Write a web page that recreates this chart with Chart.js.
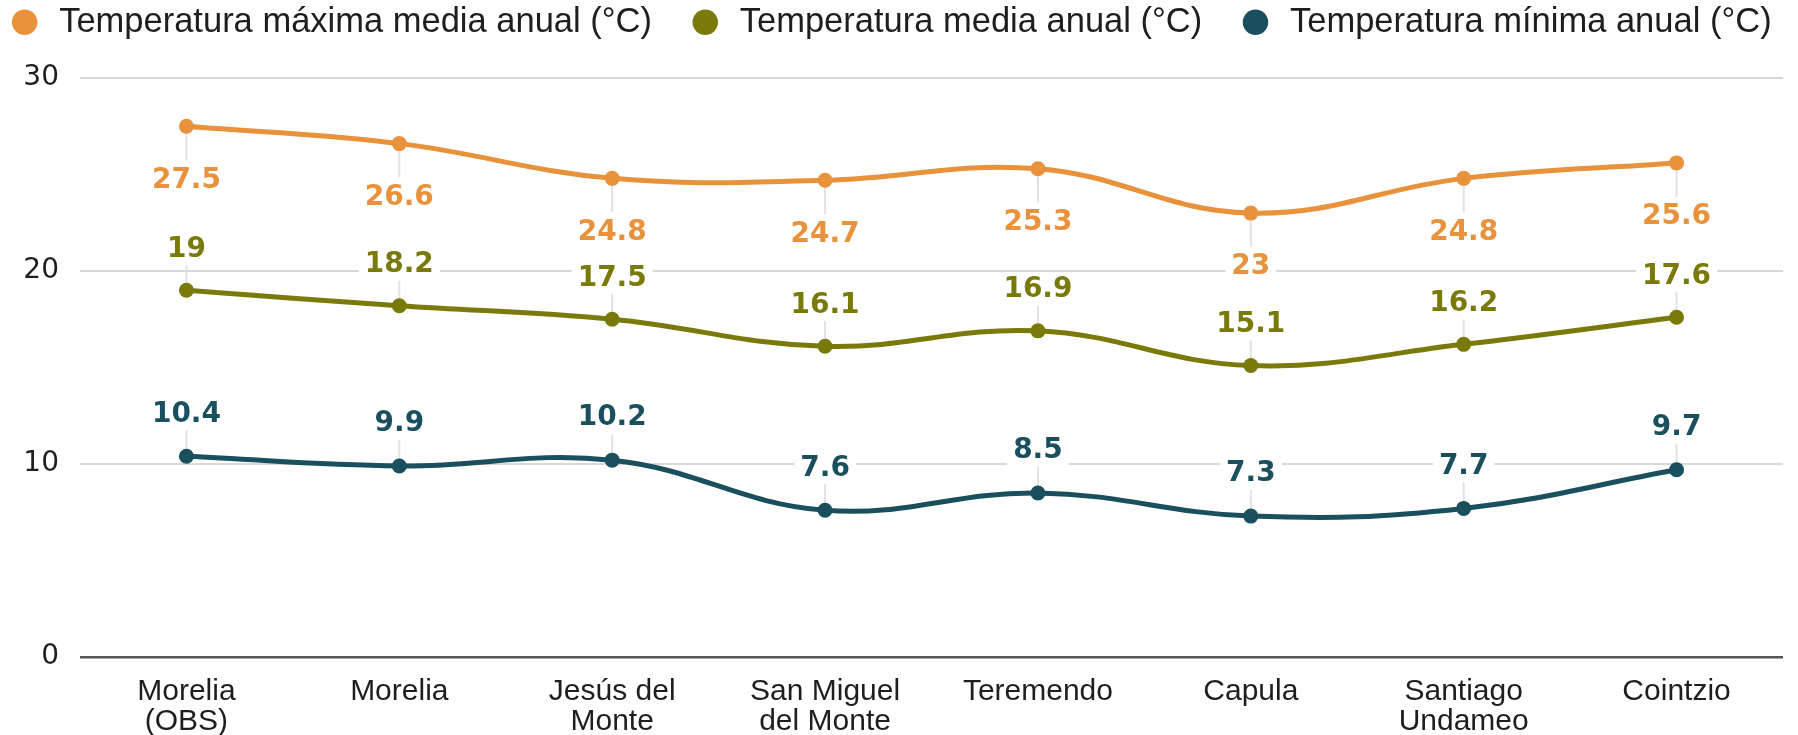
<!DOCTYPE html>
<html>
<head>
<meta charset="utf-8">
<script src="https://cdn.jsdelivr.net/npm/chart.js@4.4.1/dist/chart.umd.min.js"></script>
<style>
  html, body { margin: 0; padding: 0; background: #fff; }
  #wrap { width: 1798px; height: 735px; position: relative; }
</style>
</head>
<body>
<div id="wrap"><canvas id="myChart"></canvas></div>
<script>
// data
const stations = [["Morelia", "(OBS)"], "Morelia", ["Jesús del", "Monte"], ["San Miguel", "del Monte"], "Teremendo", "Capula", ["Santiago", "Undameo"], "Cointzio"];
const maxTemp = [27.5, 26.6, 24.8, 24.7, 25.3, 23, 24.8, 25.6];
const meanTemp = [19, 18.2, 17.5, 16.1, 16.9, 15.1, 16.2, 17.6];
const minTemp = [10.4, 9.9, 10.2, 7.6, 8.5, 7.3, 7.7, 9.7];
const seriesNames = ["Temperatura máxima media anual (°C)", "Temperatura media anual (°C)", "Temperatura mínima anual (°C)"];
const yTicks = [0, 10, 20, 30];

const colors = ['#e8923b', '#7a7a0b', '#1a4f5e'];
// label offset from the point (px): max goes below, the others above
const labelShift = [54, -41, -42];

// legend: keep all three items on one row and leave room under it
const legendSpace = {
  id: 'legendSpace',
  beforeInit(chart) {
    const fit = chart.legend.fit;
    chart.legend.fit = function () {
      this.maxWidth += 120;
      fit.call(this);
      this.height = 109;
    };
  }
};

// value labels with a thin leader line
const valueLabels = {
  id: 'valueLabels',
  beforeDatasetsDraw(chart) {
    const ctx = chart.ctx;
    ctx.save();
    ctx.strokeStyle = '#e2e2e2';
    ctx.lineWidth = 2;
    chart.data.datasets.forEach((ds, i) => {
      const shift = labelShift[i];
      chart.getDatasetMeta(i).data.forEach(pt => {
        ctx.beginPath();
        ctx.moveTo(pt.x, pt.y);
        ctx.lineTo(pt.x, pt.y + shift + (shift > 0 ? -20 : 14));
        ctx.stroke();
      });
    });
    ctx.restore();
  },
  afterDatasetsDraw(chart) {
    const ctx = chart.ctx;
    ctx.save();
    ctx.font = 'bold 28px "DejaVu Sans"';
    ctx.textAlign = 'center';
    ctx.textBaseline = 'middle';
    chart.data.datasets.forEach((ds, i) => {
      const shift = labelShift[i];
      chart.getDatasetMeta(i).data.forEach((pt, j) => {
        const txt = String(ds.data[j]);
        const w = ctx.measureText(txt).width;
        const y = pt.y + shift;
        ctx.fillStyle = '#fff';
        ctx.fillRect(pt.x - w / 2 - 6, y - 17, w + 12, 33);
        ctx.fillStyle = colors[i];
        ctx.fillText(txt, pt.x, y);
      });
    });
    ctx.restore();
  }
};

function makeSet(label, data, color) {
  return {
    label: label,
    data: data,
    borderColor: color,
    backgroundColor: color,
    pointBackgroundColor: color,
    pointBorderWidth: 0,
    pointRadius: 7.5,
    pointHoverRadius: 7.5,
    borderWidth: 5,
    tension: 0.4,
    fill: false
  };
}

const ctx = document.getElementById("myChart");
new Chart(ctx, {
  type: "line",
  data: {
    labels: stations,
    datasets: [
      makeSet(seriesNames[0], maxTemp, colors[0]),
      makeSet(seriesNames[1], meanTemp, colors[1]),
      makeSet(seriesNames[2], minTemp, colors[2])
    ]
  },
  options: {
    responsive: true,
    maintainAspectRatio: false,
    animation: false,
    // the legend row is wider than the plot, so the side paddings are negative
    layout: { padding: { top: -31, left: -39, right: -20, bottom: 0 } },
    plugins: {
      tooltip: { enabled: false },
      legend: {
        position: 'top',
        labels: {
          usePointStyle: true,
          pointStyle: 'circle',
          boxWidth: 38,
          boxHeight: 18,
          padding: 36,
          color: '#1e1e1e',
          font: { family: '"Liberation Sans", Arial, sans-serif', size: 34.5 }
        }
      }
    },
    scales: {
      x: {
        offset: true,
        grid: { display: false },
        border: { display: false },
        afterFit: s => { s.height = 78; s.paddingLeft = 0; s.paddingRight = 15; },
        ticks: {
          autoSkip: false,
          maxRotation: 0,
          padding: 12,
          color: '#1e1e1e',
          font: { family: '"Liberation Sans", Arial, sans-serif', size: 30, lineHeight: 1.0 }
        }
      },
      y: {
        min: 0,
        max: 30,
        afterBuildTicks: s => { s.ticks = yTicks.map(v => ({ value: v })); },
        afterFit: s => { s.width = 119; },
        border: { display: false },
        grid: {
          drawTicks: false,
          color: c => (c.tick && c.tick.value === 0) ? '#555555' : '#d8d8d8',
          lineWidth: c => (c.tick && c.tick.value === 0) ? 2.5 : 2
        },
        ticks: {
          padding: 21,
          color: '#1e1e1e',
          font: { family: '"DejaVu Sans", sans-serif', size: 28 }
        }
      }
    }
  },
  plugins: [legendSpace, valueLabels]
});
</script>
</body>
</html>
